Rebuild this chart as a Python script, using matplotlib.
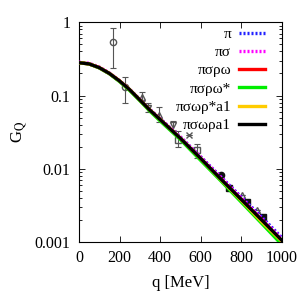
import matplotlib
matplotlib.use("Agg")
import matplotlib.pyplot as plt
import numpy as np

# curves
q_curve = [0, 50, 100, 150, 200, 250, 300, 350, 400, 500, 600, 700, 800, 900, 1000]
g_pi = [0.28, 0.27, 0.24, 0.20, 0.158, 0.12, 0.088, 0.064, 0.048, 0.027, 0.0145, 0.0077, 0.0041, 0.0022, 0.00114]
g_pisigma = [0.285, 0.275, 0.245, 0.203, 0.16, 0.121, 0.088, 0.064, 0.048, 0.027, 0.0144, 0.0076, 0.0040, 0.0021, 0.00110]
g_pisigmarhoomega = [0.28, 0.27, 0.24, 0.20, 0.158, 0.12, 0.087, 0.063, 0.047, 0.026, 0.0138, 0.0072, 0.0038, 0.0020, 0.00104]
g_pisigmarhoomega_star = [0.28, 0.27, 0.238, 0.198, 0.155, 0.117, 0.085, 0.061, 0.045, 0.025, 0.0130, 0.0068, 0.0035, 0.0018, 0.00092]
g_pisigmaomegarho_a1 = [0.28, 0.27, 0.24, 0.20, 0.158, 0.12, 0.087, 0.063, 0.047, 0.026, 0.0137, 0.0071, 0.0037, 0.0019, 0.00102]
g_pisigmaomegarhoa1 = [0.28, 0.27, 0.24, 0.20, 0.158, 0.12, 0.087, 0.063, 0.047, 0.026, 0.0138, 0.0072, 0.0038, 0.0020, 0.00105]

curve_labels = ['π', 'πσ', 'πσρω', 'πσρω*', 'πσωρ*a1', 'πσωρa1']
curve_colors = ['#2020ff', '#ff00ff', '#ff0000', '#00ee00', '#ffcc00', '#000000']

# data points (q, G, lower, upper, marker, filled)
pt_q = [167, 227, 309, 341, 396, 461, 486, 544, 580, 698, 740, 801, 826, 875, 905]
pt_g = [0.53, 0.13, 0.096, 0.068, 0.054, 0.039, 0.025, 0.029, 0.018, 0.0082, 0.0055, 0.0044, 0.0035, 0.0027, 0.0022]
pt_lo = [0.24, 0.08, 0.084, 0.060, 0.043, 0.034, 0.020, 0.029, 0.014, 0.0082, 0.0055, 0.0044, 0.0035, 0.0027, 0.0022]
pt_hi = [0.83, 0.18, 0.110, 0.078, 0.070, 0.045, 0.033, 0.029, 0.022, 0.0082, 0.0055, 0.0044, 0.0035, 0.0027, 0.0022]
pt_marker = ['o', 'o', '^', 'v', '^', 'v', 's', 'x', 's', 'o', 's', '^', 's', '^', 's']
pt_filled = [False, False, False, False, False, False, False, False, False, True, True, False, True, False, True]

plt.rcParams['font.family'] = ['Liberation Serif', 'DejaVu Serif']
plt.rcParams['mathtext.fontset'] = 'stix'

fig = plt.figure(figsize=(3, 3), dpi=100)
ax = fig.add_axes([0.263, 0.193, 0.677, 0.733])

# data points first, curves on top
for i in range(len(pt_q)):
  err = [[pt_g[i] - pt_lo[i]], [pt_hi[i] - pt_g[i]]]
  fc = '#111111' if pt_filled[i] else 'none'
  ec = '#111111' if pt_filled[i] else '#555555'
  ax.errorbar([pt_q[i]], [pt_g[i]], yerr=err, fmt=pt_marker[i], ms=4.5, mfc=fc, mec=ec,
              ecolor='#555555', elinewidth=0.8, capsize=2, capthick=0.8, zorder=2)

series = [g_pi, g_pisigma, g_pisigmarhoomega, g_pisigmarhoomega_star, g_pisigmaomegarho_a1, g_pisigmaomegarhoa1]
for k, g in enumerate(series):
  ls = (0, (0.6, 0.6)) if k < 2 else '-'
  ax.plot(q_curve, g, color=curve_colors[k], lw=2.4, ls=ls, label=curve_labels[k], zorder=3 + k)

ax.set_yscale('log')
ax.set_xlim(0, 1000)
ax.set_ylim(0.001, 1)
ax.set_xticks([0, 200, 400, 600, 800, 1000])
ax.set_yticks([0.001, 0.01, 0.1, 1])
ax.set_yticklabels(['0.001', '0.01', '0.1', '1'])
ax.tick_params(which='both', direction='in', top=True, right=True, labelsize=11.5, pad=6)
ax.tick_params(which='major', length=4, width=0.6)
ax.tick_params(which='minor', length=2, width=0.6)
for s in ax.spines.values():
  s.set_linewidth(0.8)

ax.set_xlabel('q [MeV]', fontsize=12, labelpad=6)
ax.set_ylabel('G$_\\mathrm{Q}$', fontsize=12)
ax.yaxis.set_label_coords(-0.24, 0.5)

leg = ax.legend(loc='upper right', bbox_to_anchor=(0.945, 1.005), frameon=False, markerfirst=False,
                fontsize=11, handlelength=1.7, labelspacing=0.3, borderaxespad=0.0, handletextpad=0.5)

fig.savefig('out.png', dpi=100)
